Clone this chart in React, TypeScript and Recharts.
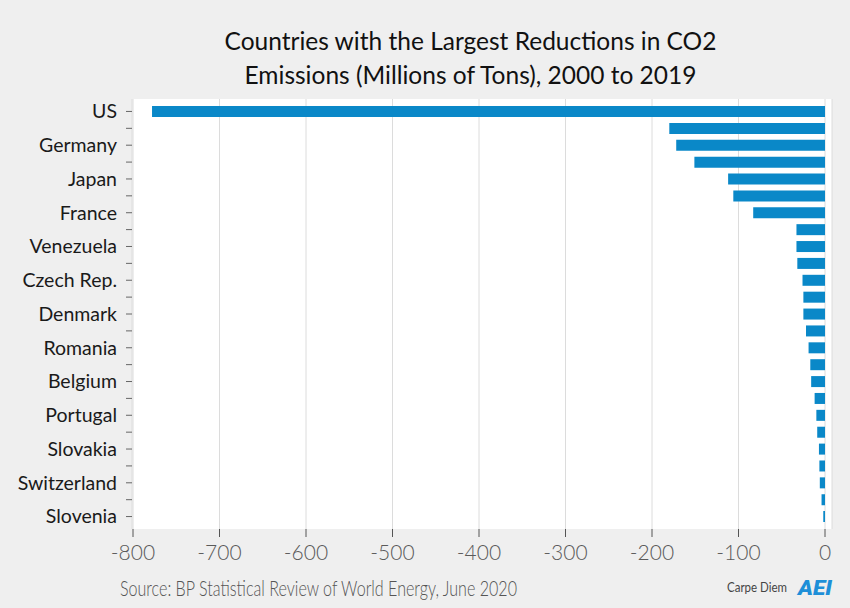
import React from 'react';
import { BarChart, Bar, XAxis, YAxis, CartesianGrid, Text } from 'recharts';

const countries = [
  'US', 'UK', 'Germany', 'Italy', 'Japan', 'Spain', 'France', 'Ukraine',
  'Venezuela', 'Greece', 'Czech Rep.', 'Finland', 'Denmark', 'Sweden',
  'Romania', 'Hungary', 'Belgium', 'Netherlands', 'Portugal', 'Bulgaria',
  'Slovakia', 'Norway', 'Switzerland', 'Lithuania', 'Slovenia',
];
// only every second country gets a label in the original
const shownLabels = [
  'US', 'Germany', 'Japan', 'France ', 'Venezuela', 'Czech Rep.', 'Denmark',
  'Romania', 'Belgium', 'Portugal', 'Slovakia', 'Switzerland', 'Slovenia',
];
const reductions = [
  -778, -180, -172, -151, -112, -106, -83, -33, -33, -32, -26, -25, -25,
  -22, -19, -17, -16, -12, -10, -9, -7, -6.5, -6, -4, -2,
];
const xTicks = [-800, -700, -600, -500, -400, -300, -200, -100, 0];

const data = countries.map((c, i) => ({ country: c, value: reductions[i] }));

const BLUE = '#0a88c8';

function CountryTick(props: any) {
  const { x, y, index } = props;
  if (index % 2 !== 0) return null;
  return (
    <Text
      x={x}
      y={y}
      textAnchor="end"
      verticalAnchor="middle"
      fontSize={19.5}
      fill="#1a1a1a"
      fontFamily="Lato, 'Noto Sans', sans-serif"
    >
      {shownLabels[index / 2]}
    </Text>
  );
}

export default function App() {
  return (
    <div
      style={{
        position: 'absolute',
        top: 0,
        left: 0,
        width: 850,
        height: 608,
        background: '#efefef',
        fontFamily: 'Lato, sans-serif',
      }}
    >
      <div
        style={{
          position: 'absolute',
          top: 24,
          left: 0,
          width: 941,
          textAlign: 'center',
          fontSize: 24.5,
          lineHeight: '34px',
          color: '#111',
        }}
      >
        Countries with the Largest Reductions in CO2
        <br />
        Emissions (Millions of Tons), 2000 to 2019
      </div>
      <BarChart
        width={850}
        height={608}
        data={data}
        layout="vertical"
        margin={{ top: 99, right: 18, left: 0, bottom: 0 }}
        barSize={11}
      >
        <CartesianGrid horizontal={false} stroke="#dcdcdc" fill="#ffffff" />
        <XAxis
          type="number"
          domain={[-800, 0]}
          ticks={xTicks}
          padding={{ left: 1, right: 7 }}
          height={79}
          axisLine={false}
          tickSize={8}
          tickMargin={8}
          tickLine={{ stroke: '#555' }}
          tick={{ fontSize: 21, fill: '#5a5a5a', fontFamily: 'Lato, sans-serif', fontWeight: 300 }}
          interval={0}
        />
        <YAxis
          type="category"
          dataKey="country"
          width={132}
          axisLine={false}
          tickSize={6}
          tickMargin={9}
          tickLine={{ stroke: '#666' }}
          tick={<CountryTick />}
          interval={0}
          padding={{ top: 4, bottom: 4 }}
        />
        <Bar dataKey="value" fill={BLUE} isAnimationActive={false} />
      </BarChart>
      <svg
        width={850}
        height={40}
        style={{ position: 'absolute', top: 568, left: 0 }}
      >
        <text
          x={120}
          y={28}
          fontSize={21.5}
          fill="#555"
          fontFamily="Lato, sans-serif"
          fontWeight={300}
          textLength={397}
          lengthAdjust="spacingAndGlyphs"
        >
          Source: BP Statistical Review of World Energy, June 2020
        </text>
        <text
          x={727}
          y={24}
          fontSize={14}
          fill="#444"
          fontFamily="Lato, sans-serif"
          textLength={60}
          lengthAdjust="spacingAndGlyphs"
        >
          Carpe Diem
        </text>
        <text
          x={798}
          y={27}
          fontSize={21}
          fill="#1e8fd8"
          fontFamily="Roboto, sans-serif"
          fontWeight={900}
          fontStyle="italic"
          textLength={34}
          lengthAdjust="spacingAndGlyphs"
        >
          AEI
        </text>
      </svg>
    </div>
  );
}
